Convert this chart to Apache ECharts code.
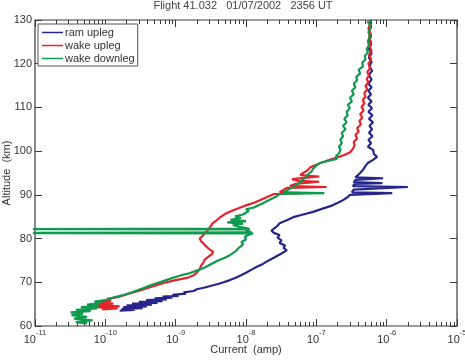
<!DOCTYPE html>
<html>
<head>
<meta charset="utf-8">
<script src="https://cdn.jsdelivr.net/npm/echarts@6/dist/echarts.min.js"></script>
<style>
html,body{margin:0;padding:0;background:#fff;}
#chart{width:465px;height:362px;}
</style>
</head>
<body>
<div id="chart"></div>
<script>
// ---- data: [current (amp), altitude (km)] ----
var seriesNames = ['ram upleg', 'wake upleg', 'wake downleg'];

var ramUpleg = [
[1.6e-10,63.5],[2.6e-10,63.7],[1.7e-10,63.9],[3.4e-10,64.1],[1.8e-10,64.3],[3.9e-10,64.5],[2.0e-10,64.7],[4.6e-10,64.9],
[2.4e-10,65.1],[5.5e-10,65.3],[3.0e-10,65.5],[6.5e-10,65.7],[3.8e-10,65.9],[7.5e-10,66.1],[5.0e-10,66.3],[9.0e-10,66.5],
[6.5e-10,66.7],[1.1e-9,66.9],[9.0e-10,67.1],[1.4e-9,67.4],[1.3e-9,67.7],[1.8e-9,68.0],[2.0e-9,68.4],[2.6e-9,68.8],
[3.2e-9,69.2],[4.0e-9,69.6],[4.8e-9,70.0],[5.9e-9,70.5],[7.0e-9,71.0],[8.5e-9,71.6],[1.0e-8,72.2],[1.2e-8,72.9],
[1.45e-8,73.6],[1.74e-8,74.2],[2.1e-8,75.0],[2.6e-8,75.8],[3.2e-8,76.6],[3.8e-8,77.3],[3.4e-8,77.9],[3.6e-8,78.4],
[3.0e-8,79.0],[3.2e-8,79.6],[2.8e-8,80.2],[3.0e-8,80.8],[2.5e-8,81.3],[2.3e-8,81.8],[2.5e-8,82.3],[2.8e-8,82.9],
[3.0e-8,83.5],[3.8e-8,84.2],[4.7e-8,84.9],[6.5e-8,85.5],[9.0e-8,86.1],[1.2e-7,86.8],[1.7e-7,87.6],[2.1e-7,88.3],
[2.4e-7,88.8],[2.8e-7,89.5],[3.0e-7,90.0],[1.2e-6,90.4],[3.2e-7,90.6],[3.4e-7,91.2],[2.0e-6,91.8],[3.3e-7,92.0],
[3.5e-7,92.5],[8.7e-7,92.7],[3.4e-7,92.9],[3.6e-7,93.4],[8.9e-7,93.8],[3.6e-7,94.0],[3.8e-7,94.4],[4.2e-7,95.0],
[4.6e-7,95.7],[4.9e-7,96.4],[5.4e-7,97.3],[6.4e-7,98.0],[7.3e-7,98.7],[6.6e-7,99.3],[6.4e-7,100.3],[5.4e-7,101.0],
[6.0e-7,101.8],[5.5e-7,102.6],[6.3e-7,103.4],[5.6e-7,104.2],[6.2e-7,105.0],[5.7e-7,105.8],[6.4e-7,106.6],[5.6e-7,107.4],
[6.3e-7,108.2],[5.5e-7,109.0],[6.2e-7,109.8],[5.5e-7,110.6],[6.1e-7,111.4],[5.4e-7,112.2],[6.0e-7,113.0],[5.5e-7,113.8],
[6.1e-7,114.6],[5.5e-7,115.4],[6.1e-7,116.4],[5.6e-7,117.4],[6.2e-7,118.4],[5.7e-7,119.4],[6.1e-7,120.4],[5.6e-7,121.4],
[6.1e-7,122.4],[5.6e-7,123.4],[6.0e-7,124.4],[5.7e-7,125.4],[6.0e-7,126.4],[5.6e-7,127.4],[6.0e-7,128.4],[5.8e-7,129.4],[6.0e-7,130]
];

var wakeUpleg = [
[9.0e-11,63.8],[1.5e-10,64.0],[7.0e-11,64.3],[1.6e-10,64.5],[7.5e-11,64.8],[1.3e-10,65.1],[8.5e-11,65.4],[1.2e-10,65.8],
[1.05e-10,66.2],[1.5e-10,66.6],[1.9e-10,67.1],[2.4e-10,67.6],[3.2e-10,68.2],[4.2e-10,68.8],[5.5e-10,69.4],[7.0e-10,69.9],
[1.0e-9,70.5],[1.45e-9,71.0],[1.8e-9,71.6],[2.0e-9,72.2],[2.2e-9,73.0],[2.3e-9,73.8],[2.5e-9,74.6],[2.6e-9,75.2],
[2.9e-9,75.8],[3.3e-9,76.5],[3.4e-9,77.0],[3.0e-9,77.6],[2.7e-9,78.2],[2.5e-9,78.8],[2.3e-9,79.4],[2.2e-9,80.0],
[2.4e-9,80.6],[2.6e-9,81.2],[2.8e-9,81.8],[3.0e-9,82.4],[3.2e-9,83.0],[3.4e-9,83.6],[3.9e-9,84.3],[4.4e-9,85.0],
[5.0e-9,85.6],[6.2e-9,86.3],[8.0e-9,87.0],[1.0e-8,87.6],[1.3e-8,88.2],[1.6e-8,88.8],[2.0e-8,89.5],[2.5e-8,90.2],
[6.0e-8,90.4],[3.0e-8,90.6],[3.4e-8,91.1],[3.8e-8,91.6],[1.4e-7,91.8],[4.2e-8,92.0],[5.0e-8,92.5],[1.1e-7,93.0],
[5.5e-8,93.2],[4.5e-8,93.6],[1.1e-7,94.2],[5.9e-8,94.5],[6.5e-8,95.0],[7.5e-8,95.6],[8.2e-8,96.3],[1.0e-7,96.9],
[1.2e-7,97.4],[1.55e-7,98.0],[2.0e-7,98.6],[2.5e-7,99.1],[3.0e-7,99.7],[3.3e-7,100.5],[3.5e-7,101.3],[3.4e-7,102.1],
[3.8e-7,102.9],[3.6e-7,103.7],[4.0e-7,104.5],[3.8e-7,105.3],[4.3e-7,106.1],[4.1e-7,106.9],[4.5e-7,107.7],[4.2e-7,108.5],
[4.7e-7,109.3],[4.4e-7,110.1],[4.8e-7,110.9],[4.6e-7,111.7],[5.0e-7,112.5],[4.8e-7,113.3],[5.3e-7,114.1],[5.0e-7,114.9],
[5.5e-7,115.7],[5.2e-7,116.5],[5.6e-7,117.3],[5.3e-7,118.1],[5.8e-7,119.0],[5.5e-7,120.0],[6.0e-7,121.0],[5.6e-7,122.0],
[6.1e-7,123.0],[5.7e-7,124.0],[6.0e-7,125.0],[5.6e-7,126.0],[5.9e-7,127.0],[5.5e-7,128.0],[5.8e-7,129.0],[5.3e-7,129.7]
];

var wakeDownleg = [
[5.5e-11,60.6],[3.8e-11,60.9],[6.6e-11,61.3],[3.6e-11,61.7],[5.5e-11,62.1],[3.3e-11,62.5],[4.8e-11,62.8],[3.2e-11,63.1],
[6.2e-11,63.4],[3.8e-11,63.7],[7.6e-11,64.0],[4.5e-11,64.3],[8.0e-11,64.6],[5.5e-11,64.9],[9.0e-11,65.3],[7.0e-11,65.6],
[1.05e-10,66.0],[1.3e-10,66.5],[1.8e-10,67.1],[2.4e-10,67.7],[3.0e-10,68.3],[3.9e-10,69.0],[5.0e-10,69.6],[6.5e-10,70.2],
[9.1e-10,71.0],[1.2e-9,71.6],[1.6e-9,72.1],[2.0e-9,72.7],[2.6e-9,73.4],[3.2e-9,74.2],[4.0e-9,75.0],[5.0e-9,75.6],
[5.9e-9,76.2],[7.0e-9,77.0],[7.8e-9,77.8],[9.1e-9,78.6],[8.6e-9,79.2],[1.0e-8,79.8],[9.6e-9,80.4],[1.1e-8,80.9],
[1.26e-8,81.2],[1e-12,81.25],[1e-12,81.35],[1.2e-8,81.4],[1.0e-8,81.8],[1.14e-8,82.1],[1e-12,82.15],[1e-12,82.25],
[1.1e-8,82.3],[8.0e-9,82.7],[6.5e-9,83.1],[9.1e-9,83.4],[5.4e-9,83.7],[1.0e-8,84.0],[6.0e-9,84.3],[8.5e-9,84.7],
[7.0e-9,85.1],[9.0e-9,85.5],[8.5e-9,85.9],[1.1e-8,86.3],[1.0e-8,86.7],[1.3e-8,87.1],[1.5e-8,87.6],[1.74e-8,88.1],
[2.0e-8,88.6],[2.4e-8,89.2],[2.8e-8,89.8],[3.0e-8,90.2],[1.3e-7,90.4],[3.4e-8,90.6],[4.0e-8,91.2],[4.7e-8,91.8],
[5.5e-8,92.5],[6.0e-8,93.2],[7.0e-8,93.9],[7.5e-8,94.6],[8.5e-8,95.3],[9.0e-8,96.0],[1.0e-7,96.7],[1.13e-7,97.3],
[1.4e-7,97.7],[1.96e-7,98.2],[1.9e-7,98.8],[2.1e-7,99.5],[2.2e-7,100.3],[2.1e-7,101.0],[2.3e-7,101.8],[2.2e-7,102.6],
[2.4e-7,103.4],[2.3e-7,104.2],[2.6e-7,105.0],[2.4e-7,105.8],[2.7e-7,106.6],[2.5e-7,107.4],[2.8e-7,108.2],[2.7e-7,109.0],
[3.0e-7,109.8],[2.8e-7,110.6],[3.2e-7,111.4],[3.0e-7,112.2],[3.4e-7,113.0],[3.2e-7,113.8],[3.6e-7,114.6],[3.4e-7,115.4],
[3.8e-7,116.2],[3.7e-7,117.0],[4.2e-7,117.8],[4.0e-7,118.6],[4.6e-7,119.4],[4.5e-7,120.2],[5.0e-7,121.0],[4.9e-7,121.8],
[5.4e-7,122.6],[5.2e-7,123.4],[5.6e-7,124.2],[5.4e-7,125.2],[5.8e-7,126.2],[5.5e-7,127.2],[5.9e-7,128.2],[5.6e-7,129.2],[5.9e-7,130]
];

// ---- axes / ticks ----
var xMinExp = -11, xMaxExp = -5;
var xTickExponents = [-11, -10, -9, -8, -7, -6, -5];
var minorMultipliers = [2, 3, 4, 5, 6, 7, 8, 9];
var yTicks = [60, 70, 80, 90, 100, 110, 120, 130];
var titleText = 'Flight 41.032   01/07/2002   2356 UT';
var xName = 'Current  (amp)';
var yName = 'Altitude  (km)';
var colors = ['#25258c', '#e5232b', '#0e9b4e'];

var minorTickPos = [];
for (var e = xMinExp; e < xMaxExp; e++) {
  for (var k = 0; k < minorMultipliers.length; k++) minorTickPos.push(e + Math.log10(minorMultipliers[k]));
}

var axisColor = '#3a3a3a';
var textColor = '#333';
var font = 'Liberation Sans, Arial, sans-serif';

var chart = echarts.init(document.getElementById('chart'), null, {renderer: 'canvas'});

function baseLog(pos) {
  return {
    type: 'log', logBase: 10, min: Math.pow(10, xMinExp), max: Math.pow(10, xMaxExp),
    interval: 1, position: pos, gridIndex: 0,
    axisLine: {show: false},
    axisTick: {show: true, inside: true, length: 7, lineStyle: {color: axisColor, width: 1}},
    splitLine: {show: false},
    minorTick: {show: false}
  };
}
function minorAxis(pos) {
  return {
    type: 'value', min: xMinExp, max: xMaxExp, position: pos, gridIndex: 0,
    axisLine: {show: false},
    axisTick: {show: true, inside: true, length: 4, customValues: minorTickPos, lineStyle: {color: axisColor, width: 1}},
    axisLabel: {show: false},
    splitLine: {show: false}
  };
}

var xBottom = baseLog('bottom');
xBottom.axisLabel = {
  show: true, margin: 3, color: textColor, fontFamily: font, hideOverlap: false,
  formatter: function (v) {
    var ex = Math.round(Math.log10(v));
    return '{b|10}{e|' + ex + '}';
  },
  rich: {
    b: {fontSize: 11, fontFamily: font, color: textColor, verticalAlign: 'bottom', lineHeight: 16, padding: [5, 0, 0, 0]},
    e: {fontSize: 7.5, fontFamily: font, color: textColor, verticalAlign: 'top', lineHeight: 16, padding: [0, 0, 7, 0]}
  }
};
xBottom.name = xName;
xBottom.nameLocation = 'middle';
xBottom.nameGap = 18;
xBottom.nameMoveOverlap = false;
xBottom.nameTextStyle = {fontSize: 11, fontFamily: font, color: textColor};

var xTop = baseLog('top');
xTop.axisLabel = {show: false};

var option = {
  animation: false,
  backgroundColor: '#fff',
  color: colors,
  title: {
    text: titleText, left: 243, textAlign: 'center', top: 0, padding: 0,
    textStyle: {fontSize: 11, fontWeight: 'normal', color: '#444', fontFamily: font}
  },
  legend: {
    data: seriesNames, orient: 'vertical', left: 38, top: 24,
    icon: 'rect', itemWidth: 21, itemHeight: 1.5, itemGap: 2,
    padding: [3, 3, 2, 4],
    borderColor: '#555', borderWidth: 1, backgroundColor: '#fff',
    textStyle: {fontSize: 11, fontFamily: font, color: textColor, padding: [0, 0, 0, -3]}
  },
  grid: {
    left: 35, right: 8, top: 20, bottom: 36, show: true, containLabel: false, outerBoundsMode: 'none',
    borderColor: axisColor, borderWidth: 1.2, backgroundColor: 'transparent'
  },
  xAxis: [xBottom, minorAxis('bottom'), xTop, minorAxis('top')],
  yAxis: [
    {
      type: 'value', min: yTicks[0], max: yTicks[yTicks.length - 1], interval: 10, position: 'left',
      axisLine: {show: false},
      axisTick: {show: true, inside: true, length: 7, lineStyle: {color: axisColor}},
      axisLabel: {show: true, margin: 3, fontSize: 11, fontFamily: font, color: textColor},
      splitLine: {show: false},
      name: yName, nameLocation: 'middle', nameGap: 23, nameMoveOverlap: false,
      nameTextStyle: {fontSize: 11, fontFamily: font, color: textColor}
    },
    {
      type: 'value', min: yTicks[0], max: yTicks[yTicks.length - 1], interval: 10, position: 'right',
      axisLine: {show: false},
      axisTick: {show: true, inside: true, length: 7, lineStyle: {color: axisColor}},
      axisLabel: {show: false},
      splitLine: {show: false}
    }
  ],
  series: [
    {name: seriesNames[0], type: 'line', data: ramUpleg, xAxisIndex: 0, yAxisIndex: 0, showSymbol: false, symbol: 'none',
     lineStyle: {width: 2.2, color: colors[0]}, z: 3},
    {name: seriesNames[1], type: 'line', data: wakeUpleg, xAxisIndex: 0, yAxisIndex: 0, showSymbol: false, symbol: 'none',
     lineStyle: {width: 2.2, color: colors[1]}, z: 4},
    {name: seriesNames[2], type: 'line', data: wakeDownleg, xAxisIndex: 0, yAxisIndex: 0, showSymbol: false, symbol: 'none',
     lineStyle: {width: 2.2, color: colors[2]}, z: 5, clip: false}
  ]
};
chart.setOption(option);
</script>
</body>
</html>
